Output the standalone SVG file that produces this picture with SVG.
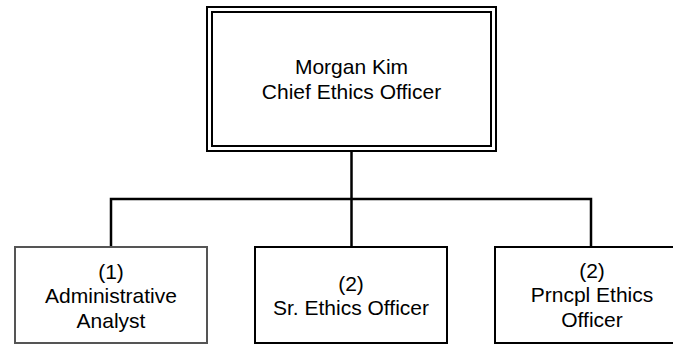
<svg xmlns="http://www.w3.org/2000/svg" width="673" height="345" viewBox="0 0 673 345">
<style>
.box{fill:#fff;stroke:#000;stroke-width:2}
.gray{stroke:#555}
.conn{fill:none;stroke:#000;stroke-width:2.5}
text{font-family:"Liberation Sans",Arial,sans-serif;font-size:21px;fill:#000;text-anchor:middle}
</style>
<rect width="673" height="345" fill="#fff"/>
<g id="connectors">
<path class="conn" d="M351.5 151 V199 M111 247 V199 H591 V247 M351.5 199 V247"/>
</g>
<g id="ceo">
<rect class="box" x="207" y="7" width="289" height="144"/>
<rect class="box" x="212" y="12" width="279" height="134"/>
<text x="351.5" y="74">Morgan Kim</text>
<text x="351.5" y="99">Chief Ethics Officer</text>
</g>
<g id="analyst">
<rect class="box gray" x="15" y="247" width="192" height="96"/>
<text x="111" y="279">(1)</text>
<text x="111" y="303">Administrative</text>
<text x="111" y="328">Analyst</text>
</g>
<g id="sr-officer">
<rect class="box" x="255" y="247" width="192" height="96"/>
<text x="351" y="291">(2)</text>
<text x="351" y="315">Sr. Ethics Officer</text>
</g>
<g id="principal-officer">
<rect class="box" x="495" y="247" width="192" height="96"/>
<text x="592" y="278">(2)</text>
<text x="592" y="302">Prncpl Ethics</text>
<text x="592" y="327">Officer</text>
</g>
</svg>
